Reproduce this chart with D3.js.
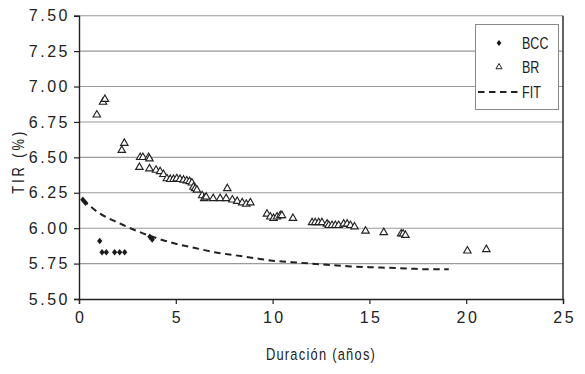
<!DOCTYPE html>
<html>
<head>
<meta charset="utf-8">
<script src="https://cdn.jsdelivr.net/npm/d3@7"></script>
<style>
  html, body { margin: 0; padding: 0; background: #fff; }
  svg { display: block; }
  text { font-family: "Liberation Sans", Arial, sans-serif; fill: #222; }
</style>
</head>
<body>
<svg id="chart" width="585" height="374"></svg>
<script>
// BCC bonds: duration (years) and yield (%)
const bccDur = [0.20, 0.33, 1.07, 1.19, 1.41, 1.84, 2.10, 2.36, 3.66, 3.78];
const bccTir = [6.20, 6.18, 5.91, 5.83, 5.83, 5.83, 5.83, 5.83, 5.94, 5.92];

// BR bonds: duration (years) and yield (%)
const brDur = [0.92, 1.24, 1.34, 2.21, 2.34, 3.16, 3.30, 3.59, 3.64,
  3.12, 3.64, 3.98, 4.19, 4.36, 4.54, 4.71, 4.88, 5.05, 5.22, 5.40, 5.57, 5.71, 5.83, 5.91, 6.00, 6.09,
  6.36, 6.47, 6.57, 6.93, 7.29, 7.60, 7.66, 7.92, 8.17, 8.43, 8.64, 8.85,
  9.71, 9.88, 10.05, 10.23, 10.40, 10.48, 11.05,
  12.04, 12.20, 12.38, 12.55, 12.81, 12.90, 13.07, 13.24, 13.41, 13.67, 13.85, 14.02, 14.23,
  14.80, 15.74, 16.64, 16.74, 16.86, 20.06, 21.04];
const brTir = [6.80, 6.89, 6.91, 6.55, 6.60, 6.50, 6.50, 6.50, 6.49,
  6.43, 6.42, 6.41, 6.40, 6.38, 6.35, 6.345, 6.345, 6.35, 6.345, 6.34, 6.335, 6.33, 6.32, 6.29, 6.28, 6.27,
  6.23, 6.21, 6.22, 6.21, 6.21, 6.21, 6.28, 6.20, 6.19, 6.18, 6.17, 6.18,
  6.10, 6.08, 6.07, 6.08, 6.09, 6.09, 6.07,
  6.04, 6.04, 6.04, 6.04, 6.03, 6.02, 6.02, 6.02, 6.02, 6.03, 6.03, 6.02, 6.01,
  5.98, 5.97, 5.96, 5.96, 5.95, 5.84, 5.85];

// Fitted yield curve
const fitDur = [0.2, 1, 2, 3, 4, 5, 6, 7, 8, 9, 10, 11, 12, 13, 14, 15, 16, 17, 18, 19.1];
const fitTir = [6.20, 6.11, 6.04, 5.98, 5.93, 5.89, 5.86, 5.83, 5.81, 5.79, 5.77, 5.76, 5.75, 5.74, 5.73, 5.725, 5.72, 5.715, 5.71, 5.71];

const xTicks = [0, 5, 10, 15, 20, 25];
const yTicks = [5.50, 5.75, 6.00, 6.25, 6.50, 6.75, 7.00, 7.25, 7.50];
const legendLabels = ["BCC", "BR", "FIT"];

const svg = d3.select("#chart");
const plotL = 79, plotR = 563, plotT = 15.7, plotB = 299;
const squeeze = 0.78; // horizontal squeeze that gives a condensed face

const x = d3.scaleLinear().domain([0, 25]).range([plotL, plotR]);
const y = d3.scaleLinear().domain([5.5, 7.5]).range([plotB, plotT]);

// horizontal grid lines
svg.append("g")
  .selectAll("line")
  .data(yTicks.slice(1))
  .join("line")
  .attr("x1", plotL).attr("x2", plotR)
  .attr("y1", d => y(d)).attr("y2", d => y(d))
  .attr("stroke", "#9a9a9a").attr("stroke-width", 1.1);

// right frame line
svg.append("line")
  .attr("x1", plotR).attr("x2", plotR)
  .attr("y1", plotT).attr("y2", plotB)
  .attr("stroke", "#222").attr("stroke-width", 1.4);

// axes
const yAxis = svg.append("g")
  .attr("transform", `translate(${plotL},0)`)
  .call(d3.axisLeft(y).tickValues(yTicks).tickFormat(d3.format(".2f")).tickSize(5).tickPadding(4));
const xAxis = svg.append("g")
  .attr("transform", `translate(0,${plotB})`)
  .call(d3.axisBottom(x).tickValues(xTicks).tickFormat(d3.format("d")).tickSize(5).tickPadding(8));

[yAxis, xAxis].forEach(g => {
  g.select(".domain").attr("stroke", "#222").attr("stroke-width", 1.4);
  g.selectAll(".tick line").attr("stroke", "#222").attr("stroke-width", 1.2);
  g.selectAll(".tick text")
    .attr("fill", "#222")
    .style("font-family", '"Liberation Sans", Arial, sans-serif')
    .style("font-size", "16px")
    .style("letter-spacing", "2.5px");
});
xAxis.selectAll(".tick text").attr("dx", "1.2px");

// axis titles (condensed by a horizontal squeeze)
svg.append("text")
  .attr("transform", `translate(${(plotL + plotR) / 2},360) scale(${squeeze},1)`)
  .attr("text-anchor", "middle")
  .style("font-size", "16.5px").style("letter-spacing", "1.6px")
  .text("Duración (años)");
svg.append("text")
  .attr("transform", `translate(24,${(plotT + plotB) / 2 + 4}) rotate(-90) scale(${squeeze},1)`)
  .attr("text-anchor", "middle")
  .style("font-size", "16.5px").style("letter-spacing", "3.8px")
  .text("TIR (%)");

// fitted curve
const fitLine = d3.line()
  .x((d, i) => x(fitDur[i]))
  .y(d => y(d))
  .curve(d3.curveMonotoneX);
svg.append("path")
  .datum(fitTir)
  .attr("d", fitLine)
  .attr("fill", "none")
  .attr("stroke", "#222")
  .attr("stroke-width", 2)
  .attr("stroke-dasharray", "6.5,4.5");

// BR triangles
const tri = d3.symbol().type(d3.symbolTriangle).size(24);
svg.append("g")
  .selectAll("path")
  .data(brTir)
  .join("path")
  .attr("d", tri)
  .attr("transform", (d, i) => `translate(${x(brDur[i])},${y(d)})`)
  .attr("fill", "#fff")
  .attr("stroke", "#222")
  .attr("stroke-width", 1.15);

// BCC diamonds
const dia = d3.symbol().type(d3.symbolDiamond2).size(22);
svg.append("g")
  .selectAll("path")
  .data(bccTir)
  .join("path")
  .attr("d", dia)
  .attr("transform", (d, i) => `translate(${x(bccDur[i])},${y(d)}) scale(0.9,1.1)`)
  .attr("fill", "#1a1a1a");

// legend
const lg = svg.append("g");
lg.append("rect")
  .attr("x", 475.5).attr("y", 24.5).attr("width", 83).attr("height", 85)
  .attr("fill", "#fff").attr("stroke", "#8a8a8a").attr("stroke-width", 1);
const rowY = [43, 67, 92];
lg.append("path")
  .attr("d", d3.symbol().type(d3.symbolDiamond2).size(18))
  .attr("transform", `translate(499,${rowY[0]}) scale(0.9,1.1)`)
  .attr("fill", "#1a1a1a");
lg.append("path")
  .attr("d", d3.symbol().type(d3.symbolTriangle).size(16))
  .attr("transform", `translate(499,${rowY[1]})`)
  .attr("fill", "#fff").attr("stroke", "#222").attr("stroke-width", 1);
lg.append("line")
  .attr("x1", 478).attr("x2", 518)
  .attr("y1", rowY[2]).attr("y2", rowY[2])
  .attr("stroke", "#222").attr("stroke-width", 2).attr("stroke-dasharray", "6.5,4.5");
lg.selectAll("text.lab")
  .data(legendLabels)
  .join("text")
  .attr("class", "lab")
  .attr("transform", (d, i) => `translate(522,${rowY[i] + 6}) scale(0.76,1)`)
  .style("font-size", "16.5px")
  .text(d => d);
</script>
</body>
</html>
